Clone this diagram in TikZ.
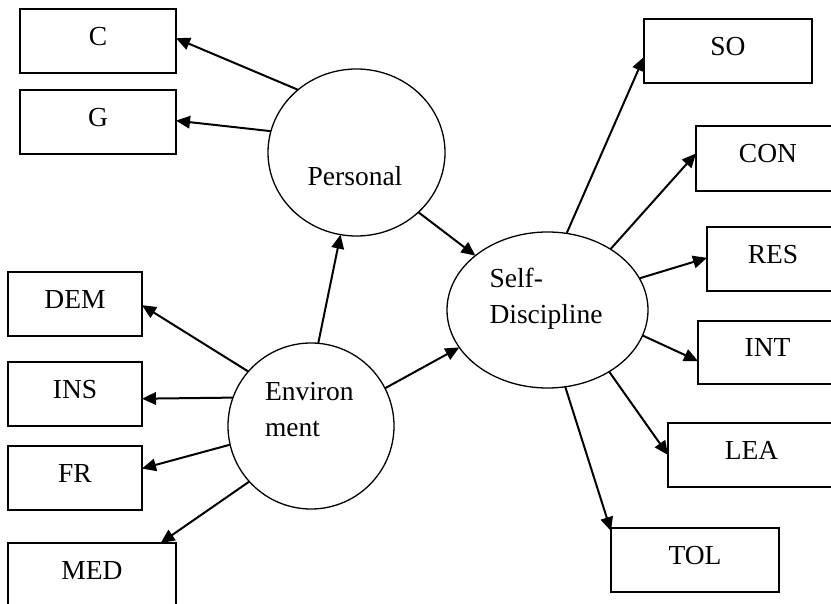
\documentclass[tikz,border=0pt]{standalone}
\usepackage{fontspec}
\setmainfont{Liberation Serif}
\usetikzlibrary{arrows.meta,shapes.geometric}
\begin{document}
\begin{tikzpicture}[x=1pt,y=-1pt,
  box/.style={draw,line width=1.8pt,rectangle,inner sep=0pt,outer sep=0pt,minimum height=64pt,text depth=10pt,font=\fontsize{27.5}{33}\selectfont},
  ell/.style={draw,line width=1.3pt,ellipse,inner sep=0pt,outer sep=0pt},
  lbl/.style={inner sep=0pt,outer sep=0pt,align=left,font=\fontsize{27.5}{36.5}\selectfont},
  arr/.style={line width=2pt,-{Triangle[length=14pt,width=12.5pt]}}]
\useasboundingbox (0,0) rectangle (831,604);
\clip (0,0) rectangle (831,604);
% boxes
\node[box,minimum width=156pt] (C) at (98,41) {C};
\node[box,minimum width=156pt] (G) at (98,122) {G};
\node[box,minimum width=134pt] (DEM) at (75,304) {DEM};
\node[box,minimum width=134pt] (INS) at (75,394) {INS};
\node[box,minimum width=134pt] (FR) at (75,478) {FR};
\node[box,minimum width=168pt] (MED) at (92,575) {MED};
\node[box,minimum width=168pt] (SO) at (728,51) {SO};
\node[box,minimum width=144pt,minimum height=65pt] (CON) at (768,158.5) {CON};
\node[box,minimum width=132pt] (RES) at (773,259) {RES};
\node[box,minimum width=139pt,minimum height=63pt] (INT) at (767.5,352.5) {INT};
\node[box,minimum width=167pt] (LEA) at (751.5,455) {LEA};
\node[box,minimum width=168pt] (TOL) at (695,560) {TOL};
% ellipses
\node[ell,minimum width=177pt,minimum height=167pt] (per) at (356.5,152.5) {};
\node[ell,minimum width=166pt,minimum height=166pt] (env) at (311,426) {};
\node[ell,minimum width=201pt,minimum height=156pt] (self) at (547.5,310) {};
% labels
\node[lbl,anchor=base] (perT) at (355,186) {Personal};
\node[lbl,anchor=north west] (envT) at (265,382) {Environ\\ment};
\node[lbl,anchor=north west] (selfT) at (489.5,268) {Self-\\Discipline};
% arrows
\draw[arr] (per.133.1) -- (C.2.2);
\draw[arr] (per.166.3) -- (G.1.5);
\draw[arr] (env.85.9) -- (per.259.7);
\draw[arr] (env.139.3) -- (DEM.359.1);
\draw[arr] (env.160.3) -- (INS.356.6);
\draw[arr] (env.193.9) -- (FR.8.5);
\draw[arr] (env.222.1) -- (MED.25.5);
\draw[arr] (env.27.2) -- (self.203.9);
\draw[arr] (per.316.4) -- (self.143.9);
\draw[arr] (self.76.7) -- (SO.184.1);
\draw[arr] (self.44.3) -- (CON.176.4);
\draw[arr] (self.19.8) -- (RES.179.1);
\draw[arr] (self.345.1) -- (INT.187.8);
\draw[arr] (self.315.7) -- (LEA.180);
\draw[arr] (self.283.9) -- (TOL.161.1);
\end{tikzpicture}
\end{document}
